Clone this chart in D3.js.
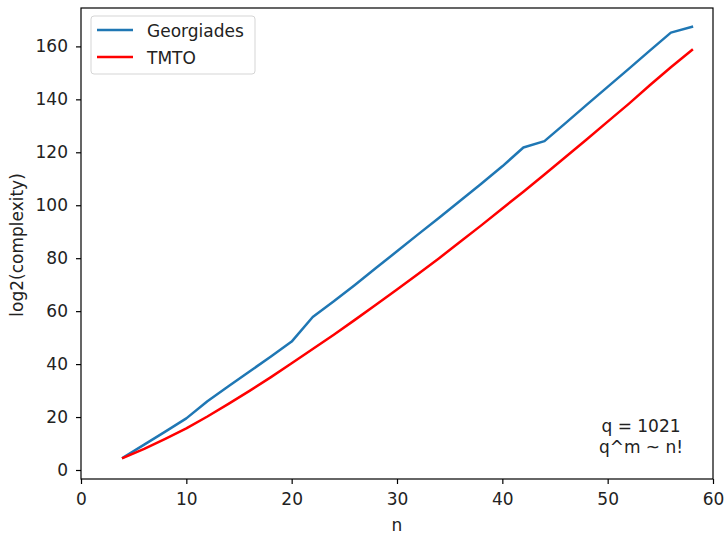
<!DOCTYPE html>
<html>
<head>
<meta charset="utf-8">
<script src="https://cdn.jsdelivr.net/npm/d3@7"></script>
<style>
    body { margin: 0; background: #fff; }
    text { font-family: "DejaVu Sans", sans-serif; }
</style>
</head>
<body>
<div id="graph"></div>
<script>
// values
var nValues = [4, 6, 8, 10, 12, 14, 16, 18, 20, 22, 24, 26, 28, 30, 32, 34,
    36, 38, 40, 42, 44, 46, 48, 50, 52, 54, 56, 58];
var georgiades = [4.7, 9.6, 14.5, 19.5, 26.0, 31.6, 37.2, 42.8, 48.5, 57.8,
    63.7, 69.9, 76.3, 82.6, 89.0, 95.3, 101.7, 108.1, 114.7, 121.8, 124.2,
    131.0, 137.9, 144.7, 151.5, 158.4, 165.2, 167.4];
var tmto = [4.6, 8.0, 11.8, 15.7, 20.2, 25.0, 29.9, 35.0, 40.3, 45.7, 51.1,
    56.7, 62.4, 68.2, 74.0, 80.0, 86.2, 92.4, 98.8, 105.1, 111.6, 118.2,
    124.8, 131.6, 138.3, 145.3, 152.1, 158.6];
var xTicks = [0, 10, 20, 30, 40, 50, 60];
var yTicks = [0, 20, 40, 60, 80, 100, 120, 140, 160];
var seriesNames = ["Georgiades", "TMTO"];
var seriesColors = ["#1f77b4", "#ff0000"];
var noteLines = ["q = 1021", "q^m ~ n!"];

var width = 728, height = 533;
var margins = {left: 81, right: 15, top: 8, bottom: 54};
var fontSize = 17;

var svg = d3.select("#graph").append("svg")
    .attr("width", width)
    .attr("height", height);

var x = d3.scaleLinear()
    .domain([0, 60])
    .range([margins.left, width - margins.right]);
var y = d3.scaleLinear()
    .domain([-3.4, 174.5])
    .range([height - margins.bottom, margins.top]);

// axes
var xAxis = svg.append("g")
    .attr("transform", "translate(0," + (height - margins.bottom) + ")")
    .call(d3.axisBottom(x).tickValues(xTicks).tickSize(5).tickPadding(9).tickFormat(d3.format("d")));
var yAxis = svg.append("g")
    .attr("transform", "translate(" + margins.left + ",0)")
    .call(d3.axisLeft(y).tickValues(yTicks).tickSize(5).tickPadding(8).tickFormat(d3.format("d")));
[xAxis, yAxis].forEach(function(ax) {
    ax.select(".domain").remove();
    ax.selectAll(".tick line").attr("stroke", "#000").attr("stroke-width", 1.2);
    ax.selectAll(".tick text")
        .attr("fill", "#222")
        .style("font-size", fontSize + "px");
});

// lines
var line = d3.line()
    .x(function(d, i) { return x(nValues[i]); })
    .y(function(d) { return y(d); });
[georgiades, tmto].forEach(function(series, i) {
    svg.append("path")
        .datum(series)
        .attr("fill", "none")
        .attr("stroke", seriesColors[i])
        .attr("stroke-width", 2.5)
        .attr("stroke-linejoin", "round")
        .attr("stroke-linecap", "square")
        .attr("d", line);
});

// frame
svg.append("rect")
    .attr("x", margins.left)
    .attr("y", margins.top)
    .attr("width", width - margins.left - margins.right)
    .attr("height", height - margins.top - margins.bottom)
    .attr("fill", "none")
    .attr("stroke", "#000")
    .attr("stroke-width", 1.2);

// axis labels
svg.append("text")
    .attr("x", x(30))
    .attr("y", 530.5)
    .attr("text-anchor", "middle")
    .attr("fill", "#222")
    .style("font-size", fontSize + "px")
    .text("n");
svg.append("text")
    .attr("transform", "translate(23," + y(85) + ") rotate(-90)")
    .attr("text-anchor", "middle")
    .attr("fill", "#222")
    .style("font-size", fontSize + "px")
    .text("log2(complexity)");

// legend
var legend = svg.append("g")
    .attr("transform", "translate(91,16)");
legend.append("rect")
    .attr("width", 164)
    .attr("height", 58)
    .attr("rx", 3)
    .attr("fill", "#fff")
    .attr("fill-opacity", 0.8)
    .attr("stroke", "#d5d5d5");
seriesNames.forEach(function(name, i) {
    var ly = 14 + i * 27;
    legend.append("line")
        .attr("x1", 6).attr("x2", 42)
        .attr("y1", ly).attr("y2", ly)
        .attr("stroke", seriesColors[i])
        .attr("stroke-width", 2.5);
    legend.append("text")
        .attr("x", 56)
        .attr("y", ly + 7)
        .attr("fill", "#222")
        .style("font-size", fontSize + "px")
        .text(name);
});

// note in the lower right corner
var note = svg.append("text")
    .attr("text-anchor", "middle")
    .attr("fill", "#222")
    .style("font-size", fontSize + "px");
noteLines.forEach(function(t, i) {
    note.append("tspan")
        .attr("x", 641)
        .attr("y", 432 + i * 21)
        .text(t);
});
</script>
</body>
</html>
